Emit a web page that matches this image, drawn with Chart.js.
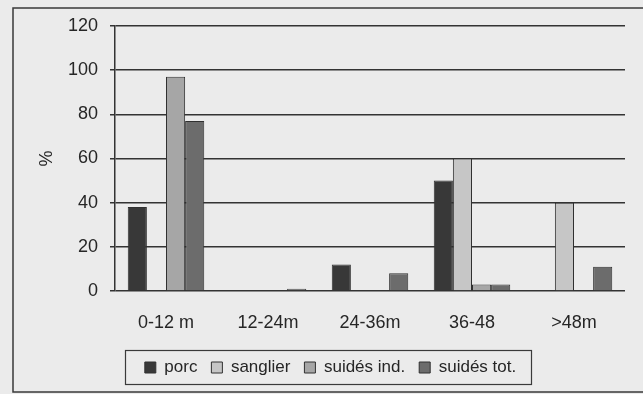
<!DOCTYPE html>
<html>
<head>
<meta charset="utf-8">
<script src="https://cdn.jsdelivr.net/npm/chart.js@4/dist/chart.umd.min.js"></script>
<style>
  html, body { margin: 0; padding: 0; background: #ebebeb; }
  #wrap { position: relative; width: 643px; height: 394px; }
</style>
</head>
<body>
<div id="wrap"><canvas id="c" width="643" height="394"></canvas></div>
<script>
// Age classes at slaughter (months)
const categories = ['0-12 m', '12-24m', '24-36m', '36-48', '>48m'];

// Share of each group per age class, in %
const porc       = [38, 0, 12, 50, 0];
const sanglier   = [0, 0, 0, 60, 40];
const suidesInd  = [97, 0, 0, 3, 0];
const suidesTot  = [77, 1, 8, 3, 11];

const yTicks = [0, 20, 40, 60, 80, 100, 120];

const FONT = "'Liberation Sans Narrow', 'Arial Narrow', 'Liberation Sans', Arial, sans-serif";
const INK = '#262626';
const LEGEND_SHIFT = 12;

// Page frame around the figure, plus a box around the legend
const framePlugin = {
  id: 'frame',
  afterLayout(chart) {
    const lg = chart.legend;
    if (!lg) return;
    lg.left += LEGEND_SHIFT;
    lg.right += LEGEND_SHIFT;
    lg.legendHitBoxes.forEach(b => { b.left += LEGEND_SHIFT; });
  },
  beforeDraw(chart) {
    const ctx = chart.ctx;
    ctx.save();
    ctx.fillStyle = '#ebebeb';
    ctx.fillRect(0, 0, chart.width, chart.height);
    ctx.strokeStyle = '#3a3a3a';
    ctx.lineWidth = 1.5;
    ctx.strokeRect(13, 8, 700, 384);
    ctx.restore();
  },
  afterDraw(chart) {
    const lg = chart.legend;
    if (!lg || !lg.legendHitBoxes.length) return;
    const boxes = lg.legendHitBoxes;
    const minX = Math.min(...boxes.map(b => b.left));
    const maxX = Math.max(...boxes.map(b => b.left + b.width));
    const ctx = chart.ctx;
    ctx.save();
    ctx.strokeStyle = '#3a3a3a';
    ctx.lineWidth = 1.2;
    ctx.strokeRect(Math.round(minX - 20) + 0.5, 350.5, Math.round(maxX - minX + 35), 34);
    ctx.restore();
  }
};

const ds = (label, data, color) => ({
  label, data,
  backgroundColor: color,
  borderColor: '#303030',
  borderWidth: 1,
  borderSkipped: 'bottom',
  categoryPercentage: 0.75,
  barPercentage: 1.0
});

new Chart(document.getElementById('c'), {
  type: 'bar',
  data: {
    labels: categories,
    datasets: [
      ds('porc', porc, '#383838'),
      ds('sanglier', sanglier, '#c6c6c6'),
      ds('suidés ind.', suidesInd, '#a6a6a6'),
      ds('suidés tot.', suidesTot, '#6c6c6c')
    ]
  },
  options: {
    responsive: false,
    animation: false,
    devicePixelRatio: 1,
    layout: { padding: { left: 12, top: 26, right: 18, bottom: 8 } },
    plugins: {
      tooltip: { enabled: false },
      legend: {
        position: 'bottom',
        labels: {
          font: { family: FONT, size: 17 },
          color: INK,
          boxWidth: 11,
          boxHeight: 11,
          padding: 14,
          useBorderRadius: false
        }
      }
    },
    scales: {
      x: {
        grid: { display: false, drawTicks: false },
        border: { display: false },
        ticks: { font: { family: FONT, size: 18 }, color: INK, padding: 21 },
        afterFit(scale) { scale.height = 54; }
      },
      y: {
        min: 0, max: 120,
        afterBuildTicks(scale) { scale.ticks = yTicks.map(v => ({ value: v })); },
        grid: { color: '#333333', lineWidth: 1.5, tickLength: 5, drawTicks: true, tickColor: '#333333' },
        border: { display: true, color: '#333333', width: 1.5 },
        ticks: { font: { family: FONT, size: 18 }, color: INK, padding: 12 },
        title: { display: true, text: '%', font: { family: FONT, size: 18 }, color: INK, padding: { top: 24, bottom: 0 } },
        afterFit(scale) { scale.width = 103; }
      }
    }
  },
  plugins: [framePlugin]
});
</script>
</body>
</html>
